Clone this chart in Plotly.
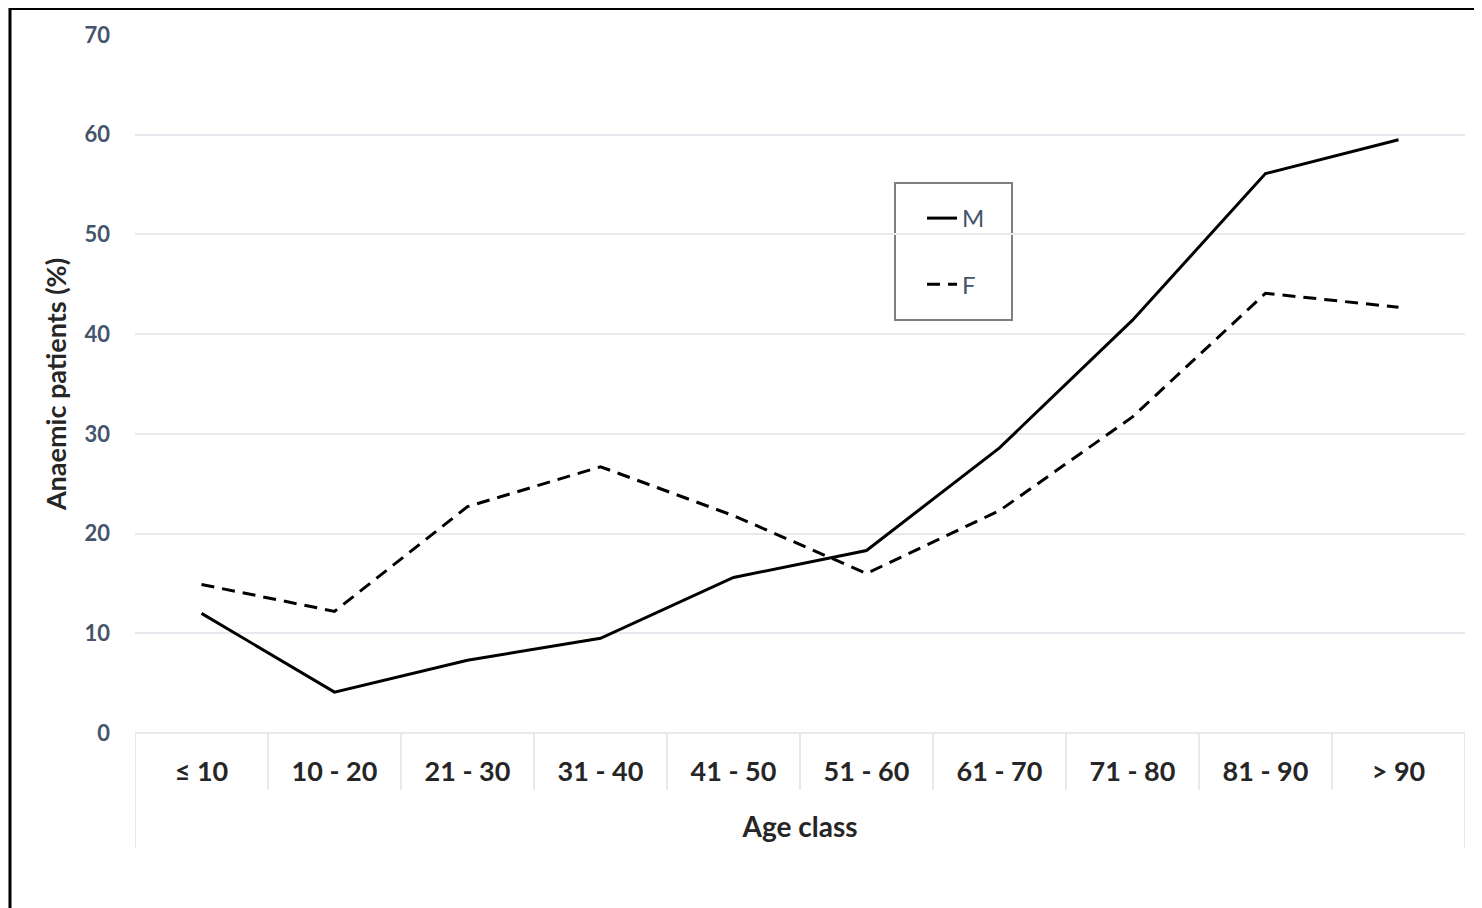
import plotly.graph_objects as go

categories = ["≤ 10", "10 - 20", "21 - 30", "31 - 40", "41 - 50", "51 - 60", "61 - 70", "71 - 80", "81 - 90", "> 90"]
male = [12.0, 4.1, 7.3, 9.5, 15.6, 18.3, 28.6, 41.4, 56.1, 59.5]
female = [14.9, 12.2, 22.7, 26.7, 21.8, 16.0, 22.3, 31.7, 44.1, 42.7]
y_ticks = [0, 10, 20, 30, 40, 50, 60, 70]

OFF = 8  # default body margin of the page
W, H = 1482 - OFF, 908 - OFF
# plot area in page pixels: x 135..1465, y 35..733
L, R, T, B = 135 - OFF, 1482 - 1465, 35 - OFF, 908 - 733
pw, ph = W - L - R, H - T - B

def px_x(p):  # page pixel -> paper x
    return (p - OFF - L) / pw

def px_y(p):  # page pixel -> paper y
    return (H - B - (p - OFF)) / ph

FONT = "Lato"
TXT = "#262626"
BLUE = "#44546a"
fig = go.Figure()
fig.add_trace(go.Scatter(x=categories, y=male, mode="lines", name="M",
                         line=dict(color="black", width=3), legendgroup="m"))
fig.add_trace(go.Scatter(x=categories, y=female, mode="lines", name="F",
                         line=dict(color="black", width=3, dash="13px,8px"), legendgroup="f"))

shapes = []
# outer frame
shapes.append(dict(type="rect", xref="paper", yref="paper",
                   x0=px_x(10), x1=px_x(1520), y0=px_y(980), y1=px_y(8.5),
                   fillcolor="white", line=dict(color="black", width=3), layer="below"))
# legend box
shapes.append(dict(type="rect", xref="paper", yref="paper",
                   x0=px_x(895), x1=px_x(1012), y0=px_y(320), y1=px_y(183),
                   fillcolor="white", line=dict(color="#7f7f7f", width=2), layer="below"))
# category dividers
grid_c = "#e6e9ee"
for i in range(len(categories) + 1):
    outer = i == 0 or i == len(categories)
    shapes.append(dict(type="line", xref="x", yref="paper",
                       x0=i - 0.5, x1=i - 0.5, y0=0,
                       y1=px_y(848) if outer else px_y(790),
                       line=dict(color=grid_c, width=2), layer="below"))

fig.update_layout(
    width=W, height=H,
    margin=dict(l=L, r=R, t=T, b=B),
    paper_bgcolor="#f0f0f0",
    plot_bgcolor="rgba(0,0,0,0)",
    shapes=shapes,
    showlegend=True,
    legend=dict(x=px_x(922), y=px_y(196), xanchor="left", yanchor="top",
                bgcolor="rgba(0,0,0,0)", borderwidth=0,
                font=dict(family=FONT, size=24, color=BLUE),
                tracegroupgap=32, traceorder="grouped"),
    xaxis=dict(
        type="category", range=[-0.5, len(categories) - 0.5],
        showgrid=False, zeroline=False, showline=False, ticks="",
        tickfont=dict(family=FONT, size=27, color=TXT, weight="bold"),
        ticklabelstandoff=20,
        title=dict(text="Age class", font=dict(family=FONT, size=28, color=TXT, weight="bold"),
                   standoff=31),
    ),
    yaxis=dict(
        range=[0, 70], tickvals=y_ticks,
        showgrid=True, gridcolor=grid_c, gridwidth=2,
        zeroline=True, zerolinecolor=grid_c, zerolinewidth=2,
        showline=False, ticks="",
        tickfont=dict(family=FONT, size=22, color=BLUE, weight="bold"),
        ticklabelstandoff=24,
        title=dict(text="Anaemic patients (%)", font=dict(family=FONT, size=27, color=TXT, weight="bold"),
                   standoff=10),
    ),
)

fig.write_html("out.html")
